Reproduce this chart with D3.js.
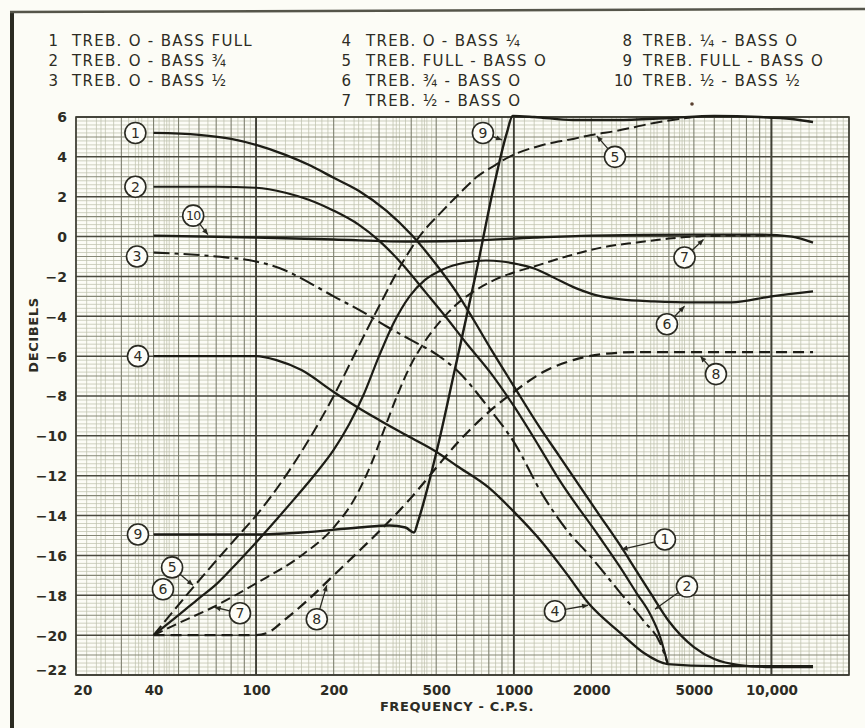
<!DOCTYPE html>
<html>
<head>
<meta charset="utf-8">
<script src="https://cdn.jsdelivr.net/npm/d3@7"></script>
<style>
  html, body { margin: 0; padding: 0; background: #fcfcf6; }
  svg { display: block; }
  text { font-family: "DejaVu Sans", "Liberation Sans", sans-serif; fill: #2d2c24; }
</style>
</head>
<body>
<svg id="chart" width="865" height="728"></svg>
<script>
// Tone-control response curves: level (dB) against frequency (c.p.s.)
const legendItems = [
  ["1", "TREB. O - BASS FULL"], ["2", "TREB. O - BASS \u00BE"], ["3", "TREB. O - BASS \u00BD"],
  ["4", "TREB. O - BASS \u00BC"], ["5", "TREB. FULL - BASS O"], ["6", "TREB. \u00BE - BASS O"],
  ["7", "TREB. \u00BD - BASS O"], ["8", "TREB. \u00BC - BASS O"], ["9", "TREB. FULL - BASS O"],
  ["10", "TREB. \u00BD - BASS \u00BD"]
];
const freqTicks = [20, 40, 100, 200, 500, 1000, 2000, 5000, 10000];
const freqTickLabels = ["20", "40", "100", "200", "500", "1000", "2000", "5000", "10,000"];
const dbTicks = [6, 4, 2, 0, -2, -4, -6, -8, -10, -12, -14, -16, -18, -20, -22];

// [frequency, dB] pairs per curve
const curve1 = [[40,5.2],[60,5.1],[80,4.9],[100,4.6],[130,4.1],[160,3.6],[200,2.95],[250,2.3],[320,1.3],[400,0.1],[500,-1.4],[600,-2.8],[700,-4.2],[820,-5.7],[1000,-7.5],[1250,-9.5],[1500,-11.0],[2130,-13.9],[2590,-15.5],[3000,-16.8],[3400,-17.9],[4000,-19.3],[5000,-20.6],[6000,-21.2],[7500,-21.5],[10000,-21.6],[14500,-21.6]];
const curve2 = [[40,2.5],[70,2.5],[100,2.45],[130,2.2],[160,1.85],[200,1.3],[250,0.6],[300,-0.2],[370,-1.4],[455,-2.8],[550,-4.1],[650,-5.3],[820,-6.9],[1000,-8.5],[1250,-10.5],[1500,-12.2],[2130,-15.0],[2590,-16.6],[3000,-17.9],[3400,-19.0],[3700,-20.1],[3950,-21.4]];
const curve3 = [[40,-0.8],[70,-1.0],[100,-1.25],[130,-1.7],[160,-2.3],[200,-3.0],[253,-3.7],[320,-4.5],[400,-5.2],[500,-5.9],[600,-6.7],[800,-8.6],[1000,-10.3],[1300,-13.0],[1600,-14.7],[2000,-16.1],[2600,-17.9],[3200,-19.3],[3700,-20.4],[3950,-21.4]];
const curve4 = [[40,-6],[100,-6],[120,-6.2],[150,-6.7],[200,-7.8],[250,-8.6],[300,-9.2],[400,-10.1],[500,-10.8],[600,-11.5],[800,-12.6],[1000,-13.8],[1300,-15.4],[1600,-16.9],[1950,-18.4],[2600,-19.9],[3200,-20.9],[3950,-21.45],[6000,-21.55],[14500,-21.55]];
const curve5 = [[40,-20],[57,-17.6],[84,-15.1],[100,-14.0],[140,-11.4],[200,-8.0],[250,-5.5],[300,-3.5],[370,-1.3],[430,0],[530,1.3],[620,2.2],[720,3.0],[850,3.6],[960,4.0],[1300,4.6],[1700,4.9],[2000,5.1],[2500,5.3],[3500,5.7],[5000,6.0]];
const curve6 = [[40,-20],[50,-19.0],[60,-18.15],[70,-17.45],[84,-16.4],[100,-15.35],[120,-14.2],[140,-13.2],[170,-11.9],[200,-10.7],[230,-9.4],[260,-8.0],[300,-6.0],[340,-4.4],[394,-3.0],[450,-2.2],[530,-1.65],[650,-1.3],[780,-1.2],[900,-1.25],[1050,-1.4],[1200,-1.6],[1400,-2.0],[1750,-2.6],[2100,-2.95],[2600,-3.15],[3500,-3.25],[5000,-3.3],[7000,-3.3],[10000,-3.0],[14500,-2.75]];
const curve7 = [[40,-20],[50,-19.4],[68,-18.6],[100,-17.4],[150,-16.0],[200,-14.6],[240,-13.2],[280,-11.4],[320,-9.4],[360,-7.7],[400,-6.4],[450,-5.3],[500,-4.5],[600,-3.4],[700,-2.75],[850,-2.15],[1000,-1.8],[1200,-1.5],[1600,-1.0],[2300,-0.5],[3000,-0.3],[4000,-0.1],[5000,0],[7000,0.05],[10000,0.05]];
const curve8 = [[40,-20],[100,-20],[110,-19.9],[130,-19.2],[160,-18.2],[200,-17.0],[250,-15.8],[300,-14.8],[400,-13.1],[500,-11.6],[600,-10.4],[800,-8.8],[1000,-7.8],[1300,-6.8],[1700,-6.2],[2200,-5.9],[3000,-5.8],[5000,-5.8],[10000,-5.8],[14500,-5.8]];
const curve9 = [[40,-14.95],[100,-14.95],[150,-14.85],[250,-14.6],[330,-14.5],[380,-14.6],[410,-14.85],[425,-14.3],[450,-13.2],[510,-10.4],[590,-6.7],[720,-1.6],[830,2.3],[940,5.2],[990,6.05],[1200,6.0],[1700,5.85],[2500,5.85],[4000,5.95],[6000,6.05],[9000,6.0],[12000,5.9],[14500,5.75]];
const curve10 = [[40,0.05],[100,-0.05],[200,-0.15],[400,-0.25],[700,-0.2],[1200,-0.05],[2000,0.05],[5000,0.1],[9000,0.1],[12000,0],[14500,-0.3]];

// circled curve numbers: [label, freq, dB, arrow-tip freq, arrow-tip dB]
const markers = [
  ["1", 34, 5.2, null, null], ["2", 34, 2.5, null, null], ["10", 57, 1.05, 65, 0.1],
  ["3", 34.5, -1.0, null, null], ["4", 34.8, -6.0, null, null], ["9", 759, 5.2, 900, 4.85],
  ["5", 2470, 4.0, 2100, 5.05], ["7", 4600, -1.05, 5450, -0.15], ["6", 3930, -4.4, 4600, -3.5],
  ["8", 6090, -6.9, 5300, -6.0], ["9", 34.8, -14.95, null, null], ["5", 47.2, -16.6, 56.9, -17.5],
  ["6", 43.5, -17.7, null, null], ["7", 86.6, -18.9, 69, -18.6], ["8", 172, -19.2, 188, -17.5],
  ["4", 1445, -18.8, 1943, -18.5], ["1", 3860, -15.2, 2620, -15.7], ["2", 4700, -17.56, 3530, -18.7]
];

const W = 865, H = 728;
const svg = d3.select("#chart");
const x = d3.scaleLog().domain([20, 20000]).range([76, 849]);
const y = d3.scaleLinear().domain([-22, 6]).range([675, 117]);

svg.append("rect").attr("width", W).attr("height", H).attr("fill", "#fcfcf6");

// page frame (left and top rules)
svg.append("line").attr("x1", 12).attr("x2", 12).attr("y1", 11).attr("y2", H)
  .attr("stroke", "#2b2b22").attr("stroke-width", 4);
svg.append("line").attr("x1", 10).attr("x2", W).attr("y1", 12).attr("y2", 9)
  .attr("stroke", "#55554a").attr("stroke-width", 2.5);

// graph paper
const grid = svg.append("g");
const [x0, x1] = x.range(), [y0, y1] = y.range();
const vFine = [], vMid = [], vMajor = [];
for (const dec of [10, 100, 1000, 10000]) {
  for (let m = 1; m < 10.001; m += 0.1) {
    const mm = Math.round(m * 10) / 10;
    const f = dec * mm;
    if (f < 20 || f > 20000) continue;
    if (Math.abs(mm - Math.round(mm)) < 1e-6) {
      if (mm === 1 || mm === 10) vMajor.push(f); else vMid.push(f);
    } else if (mm < 2 || (mm < 5 && Math.round(mm * 10) % 2 === 0) || (Math.round(mm * 10) % 5 === 0)) {
      vFine.push(f);
    }
  }
}
const hFine = [], hMid = [], hMajor = [];
for (let k = -110; k <= 30; k++) {
  const v = k / 5;
  if (k % 10 === 0) hMajor.push(v); else if (k % 5 === 0) hMid.push(v); else hFine.push(v);
}
function vlines(vals, color, w) {
  grid.selectAll(null).data(vals).enter().append("line")
    .attr("x1", d => x(d)).attr("x2", d => x(d)).attr("y1", y1).attr("y2", y0)
    .attr("stroke", color).attr("stroke-width", w);
}
function hlines(vals, color, w) {
  grid.selectAll(null).data(vals).enter().append("line")
    .attr("x1", x0).attr("x2", x1).attr("y1", d => y(d)).attr("y2", d => y(d))
    .attr("stroke", color).attr("stroke-width", w);
}
vlines(vFine, "#bfc2ae", 0.75);
hlines(hFine, "#bfc2ae", 0.75);
vlines(vMid, "#7f8170", 1.1);
hlines(hMid, "#858776", 1.1);
vlines(vMajor, "#3f3f35", 1.6);
hlines(hMajor, "#4a4a3f", 1.5);
grid.append("rect").attr("x", x0).attr("y", y1).attr("width", x1 - x0).attr("height", y0 - y1)
  .attr("fill", "none").attr("stroke", "#3a3a30").attr("stroke-width", 1.6);

// axes
const xAxis = d3.axisBottom(x).tickValues(freqTicks).tickSize(0)
  .tickFormat((d, i) => freqTickLabels[i]);
const gx = svg.append("g").attr("transform", `translate(0,${y0 + 5})`).call(xAxis);
gx.select(".domain").remove();
gx.selectAll("text").attr("font-size", 13.5).attr("font-weight", "bold").attr("fill", "#3a3a2e")
  .attr("dy", "0.9em").attr("text-anchor", (d, i) => i === 0 ? "start" : "middle")
  .attr("dx", (d, i) => i === 0 ? -3 : 0);

const yAxis = d3.axisLeft(y).tickValues(dbTicks).tickSize(0)
  .tickFormat(d => d < 0 ? "\u2212" + Math.abs(d) : String(d));
const gy = svg.append("g").attr("transform", `translate(${x0 - 6},0)`).call(yAxis);
gy.select(".domain").remove();
gy.selectAll("text").attr("font-size", 14).attr("font-weight", "bold").attr("fill", "#3a3a2e")
  .attr("dy", d => d === -22 ? "-0.05em" : "0.35em");

svg.append("text").attr("x", 457).attr("y", 711).attr("text-anchor", "middle")
  .attr("font-size", 13).attr("font-weight", "bold").attr("letter-spacing", 0.6)
  .attr("fill", "#3a3a2e").text("FREQUENCY - C.P.S.");
svg.append("text").attr("transform", "translate(38,335) rotate(-90)").attr("text-anchor", "middle")
  .attr("font-size", 13).attr("font-weight", "bold").attr("letter-spacing", 0.6)
  .attr("fill", "#3a3a2e").text("DECIBELS");

// legend, three columns: number right edge, text start, row baseline
const legendPos = [[58, 72, 40], [58, 72, 60], [58, 72, 80], [351, 366, 40], [351, 366, 60], [351, 366, 80], [351, 366, 100], [632, 643, 40], [632, 643, 60], [632, 643, 80]];
const lg = svg.append("g");
legendItems.forEach((it, i) => {
  const [nx, tx, ly] = legendPos[i];
  lg.append("text").attr("x", nx).attr("y", ly + 5.5).attr("text-anchor", "end")
    .attr("font-size", 15).attr("letter-spacing", it[0].length > 1 ? -0.5 : 0).text(it[0]);
  lg.append("text").attr("x", tx).attr("y", ly + 5.5)
    .attr("font-size", 15).attr("letter-spacing", 1.3).text(it[1]);
});

// curves
const line = d3.line().x(d => x(d[0])).y(d => y(d[1])).curve(d3.curveMonotoneX);
const curves = [
  [curve10, null, 2.4], [curve8, "11,6", 2.2], [curve7, "10,5", 2.0], [curve6, null, 2.2],
  [curve5, "12,5", 2.0], [curve4, null, 2.3], [curve3, "16,5,4,5", 2.1], [curve2, null, 2.2],
  [curve1, null, 2.3], [curve9, null, 2.4]
];
const cg = svg.append("g");
curves.forEach(([data, dash, w]) => {
  cg.append("path").datum(data).attr("d", line).attr("fill", "none")
    .attr("stroke", "#1d1d16").attr("stroke-width", w)
    .attr("stroke-dasharray", dash).attr("stroke-linejoin", "round");
});

// circled numbers with leaders
const mg = svg.append("g");
markers.forEach(([lab, f, v, tf, tv]) => {
  const cx = x(f), cy = y(v);
  if (tf !== null) {
    const tx = x(tf), ty = y(tv);
    const ang = Math.atan2(ty - cy, tx - cx);
    const sx = cx + Math.cos(ang) * 10.5, sy = cy + Math.sin(ang) * 10.5;
    mg.append("line").attr("x1", sx).attr("y1", sy).attr("x2", tx).attr("y2", ty)
      .attr("stroke", "#2a2a22").attr("stroke-width", 1.3);
    const a = 6, b = 2.6;
    const p = [[tx, ty],
      [tx - a * Math.cos(ang) + b * Math.sin(ang), ty - a * Math.sin(ang) - b * Math.cos(ang)],
      [tx - a * Math.cos(ang) - b * Math.sin(ang), ty - a * Math.sin(ang) + b * Math.cos(ang)]];
    mg.append("path").attr("d", "M" + p.map(q => q.join(",")).join("L") + "Z").attr("fill", "#2a2a22");
  }
  mg.append("circle").attr("cx", cx).attr("cy", cy).attr("r", 10.5)
    .attr("fill", "#fdfdf8").attr("stroke", "#2a2a22").attr("stroke-width", 1.6);
  mg.append("text").attr("x", cx).attr("y", cy + 4.8).attr("text-anchor", "middle")
    .attr("font-size", lab.length > 1 ? 12.5 : 14).attr("letter-spacing", lab.length > 1 ? -0.8 : 0)
    .text(lab);
});

// stray dot on the sheet
svg.append("circle").attr("cx", 692).attr("cy", 104).attr("r", 1.8).attr("fill", "#5a4030");
</script>
</body>
</html>
